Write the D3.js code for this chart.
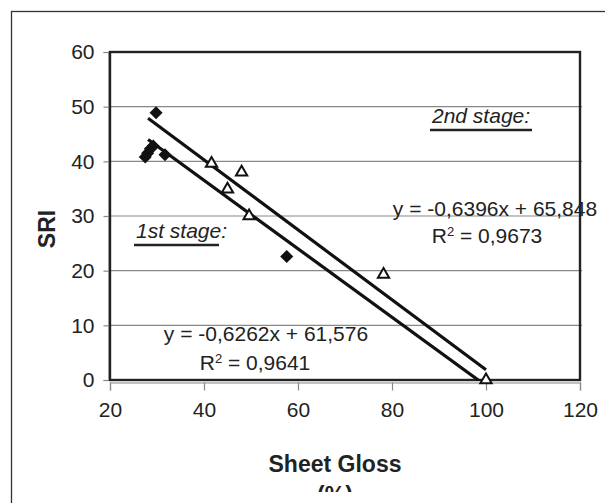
<!DOCTYPE html>
<html>
<head>
<meta charset="utf-8">
<script src="https://cdn.jsdelivr.net/npm/d3@7/dist/d3.min.js"></script>
<style>
  html, body { margin: 0; padding: 0; background: #fff; }
  svg { display: block; font-family: "Liberation Sans", Arial, sans-serif; }
</style>
</head>
<body>
<svg id="chart" width="605" height="503"></svg>
<script>
// Axis ticks
const xTicks = [20, 40, 60, 80, 100, 120];
const yTicks = [0, 10, 20, 30, 40, 50, 60];

// 1st stage measurements (Sheet Gloss %, SRI)
const stage1Gloss = [27.5, 28.0, 28.6, 29.2, 29.8, 31.7, 57.6];
const stage1SRI   = [40.8, 41.5, 42.3, 42.8, 48.9, 41.2, 22.6];

// 2nd stage measurements
const stage2Gloss = [41.6, 45.0, 48.0, 49.6, 78.2, 100.0];
const stage2SRI   = [39.6, 34.9, 38.0, 30.0, 19.3, 0.0];

// Linear trend lines: slope, intercept, x range
const trend1 = { slope: -0.6262, intercept: 61.576, from: 28.1, to: 100 };
const trend2 = { slope: -0.6396, intercept: 65.848, from: 28.1, to: 100 };

const eq1 = ["y = -0,6262x + 61,576", "0,9641"];
const eq2 = ["y = -0,6396x + 65,848", "0,9673"];

const svg = d3.select("#chart");
const plotL = 110, plotR = 580, plotT = 52, plotB = 380;

const x = d3.scaleLinear().domain([20, 120]).range([plotL, plotR]);
const y = d3.scaleLinear().domain([0, 60]).range([plotB, plotT]);

// outer chart frame (runs past the page edge)
svg.append("rect")
  .attr("x", 11.5).attr("y", 11.5).attr("width", 700).attr("height", 600)
  .attr("fill", "none").attr("stroke", "#333").attr("stroke-width", 1.3);

// horizontal gridlines
svg.append("g").selectAll("line")
  .data(yTicks.filter(d => d > 0 && d < 60))
  .join("line")
  .attr("x1", plotL).attr("x2", plotR + 2)
  .attr("y1", d => y(d)).attr("y2", d => y(d))
  .attr("stroke", "#888").attr("stroke-width", 1.2);

// axes
const fontSize = 21;
const xAxis = svg.append("g")
  .attr("transform", `translate(0,${plotB + 2.5})`)
  .call(d3.axisBottom(x).tickValues(xTicks).tickSize(8).tickPadding(22));
const yAxis = svg.append("g")
  .attr("transform", `translate(${plotL - 1.5},0)`)
  .call(d3.axisLeft(y).tickValues(yTicks).tickSize(5).tickPadding(9));
[xAxis, yAxis].forEach(g => {
  g.select(".domain").attr("stroke", "#888").attr("stroke-width", 1.2);
  g.selectAll(".tick line").attr("stroke", "#888").attr("stroke-width", 1.2);
  g.selectAll(".tick text").attr("fill", "#222")
    .style("font-family", "'Liberation Sans', Arial, sans-serif")
    .style("font-size", fontSize + "px");
});
xAxis.selectAll(".tick text").attr("dy", "0.2em");

// plot area border
svg.append("rect")
  .attr("x", plotL).attr("y", plotT).attr("width", plotR - plotL).attr("height", plotB - plotT)
  .attr("fill", "none").attr("stroke", "#222").attr("stroke-width", 2.4);

// trend lines, clipped to the plot area
svg.append("clipPath").attr("id", "plotClip")
  .append("rect").attr("x", plotL).attr("y", plotT - 20)
  .attr("width", plotR - plotL).attr("height", plotB - plotT + 21);

const trendLine = d3.line().x(d => x(d[0])).y(d => y(d[1]));
const lines = svg.append("g").attr("clip-path", "url(#plotClip)");
[trend1, trend2].forEach(t => {
  const pts = [t.from, t.to].map(v => [v, t.slope * v + t.intercept]);
  lines.append("path").attr("d", trendLine(pts))
    .attr("fill", "none").attr("stroke", "#111").attr("stroke-width", 3.2);
});

// 1st stage: filled diamonds
const diamond = d3.symbol().type(d3.symbolSquare).size(85);
svg.append("g").selectAll("path")
  .data(d3.zip(stage1Gloss, stage1SRI))
  .join("path")
  .attr("d", diamond)
  .attr("transform", d => `translate(${x(d[0])},${y(d[1])}) rotate(45)`)
  .attr("fill", "#111");

// 2nd stage: open triangles
const tri = d3.symbol().type(d3.symbolTriangle).size(55);
svg.append("g").selectAll("path")
  .data(d3.zip(stage2Gloss, stage2SRI))
  .join("path")
  .attr("d", tri)
  .attr("transform", d => `translate(${x(d[0])},${y(d[1])})`)
  .attr("fill", "#fff").attr("stroke", "#111").attr("stroke-width", 2);

// equation labels
function equation(lines, cx1, base1, cx2, base2) {
  svg.append("text").attr("x", cx1).attr("y", base1)
    .attr("text-anchor", "middle").attr("font-size", fontSize).attr("fill", "#222")
    .text(lines[0]);
  const r = svg.append("text").attr("x", cx2).attr("y", base2)
    .attr("text-anchor", "middle").attr("font-size", fontSize).attr("fill", "#222");
  r.append("tspan").text("R");
  r.append("tspan").attr("dy", -7).attr("font-size", 13).text("2");
  r.append("tspan").attr("dy", 7).text(" = " + lines[1]);
}
equation(eq1, 266, 341, 255, 370);
equation(eq2, 495, 216, 487, 243);

// stage captions
function caption(label, x0, base, ulEnd) {
  svg.append("text").attr("x", x0).attr("y", base)
    .attr("font-size", fontSize).attr("font-style", "italic").attr("fill", "#222")
    .text(label);
  svg.append("line").attr("x1", x0 - 2).attr("x2", ulEnd)
    .attr("y1", base + 7).attr("y2", base + 7)
    .attr("stroke", "#222").attr("stroke-width", 2.6);
}
caption("1st stage:", 136, 238, 219);
caption("2nd stage:", 432, 123, 532);

// axis titles
const titleSize = 23;
svg.append("text").attr("x", 335).attr("y", 472)
  .attr("text-anchor", "middle").attr("font-size", titleSize).attr("font-weight", "bold")
  .attr("fill", "#222").text("Sheet Gloss");
// unit line below the title is cut off by the bottom of the chart area
svg.append("clipPath").attr("id", "unitClip")
  .append("rect").attr("x", 0).attr("y", 0).attr("width", 605).attr("height", 492);
svg.append("text").attr("x", 335).attr("y", 503).attr("clip-path", "url(#unitClip)")
  .attr("text-anchor", "middle").attr("font-size", titleSize).attr("font-weight", "bold")
  .attr("fill", "#222").text("(%)");
svg.append("text")
  .attr("transform", "translate(55,229) rotate(-90)")
  .attr("text-anchor", "middle").attr("font-size", titleSize).attr("font-weight", "bold")
  .attr("fill", "#222").text("SRI");
</script>
</body>
</html>
